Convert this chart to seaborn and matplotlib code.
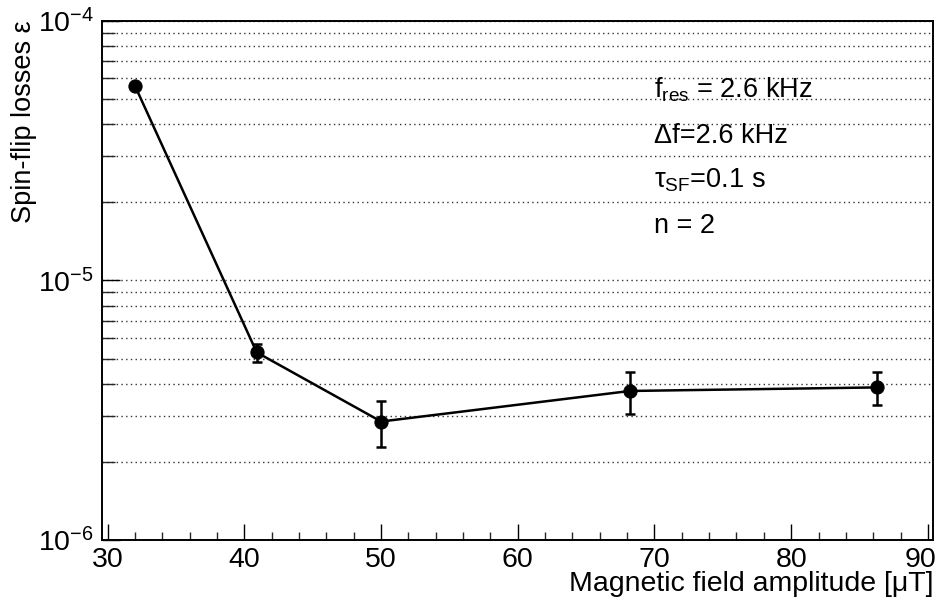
import matplotlib
matplotlib.use("Agg")
import matplotlib.pyplot as plt
import matplotlib.ticker as mticker
import matplotlib.transforms as mtransforms
import seaborn as sns
import pandas as pd
import numpy as np

# ---- data ----
field_uT = [32.0, 40.9, 50.0, 68.2, 86.3]
losses = [5.6e-5, 5.28e-6, 2.86e-6, 3.75e-6, 3.87e-6]
loss_err = [0.0, 0.43e-6, 0.57e-6, 0.70e-6, 0.56e-6]
x_ticks = [30, 40, 50, 60, 70, 80, 90]
annotations = [r"f$_{\rm res}$ = 2.6 kHz", "Δf=2.6 kHz", "τ$_{\\rm SF}$=0.1 s", "n = 2"]

df = pd.DataFrame({"field": field_uT, "loss": losses, "err": loss_err})

sns.set_theme(style="white")
plt.rcParams["font.family"] = ["Liberation Sans", "DejaVu Sans"]
plt.rcParams["mathtext.fontset"] = "custom"
plt.rcParams["mathtext.rm"] = "Liberation Sans"
plt.rcParams["mathtext.it"] = "Liberation Sans:italic"
plt.rcParams["mathtext.default"] = "regular"
plt.rcParams["axes.unicode_minus"] = False

fig = plt.figure(figsize=(9.4, 6.05), dpi=100)
ax = fig.add_axes([0.1088, 0.1074, 0.8841, 0.8584])

ax.set_yscale("log")
ax.set_xlim(29.6, 90.4)
ax.set_ylim(1e-6, 1e-4)

ax.yaxis.grid(True, which="both", linestyle=(0, (1, 2.4)), color="#333333", linewidth=1.0)
ax.xaxis.grid(False)
ax.set_axisbelow(True)

ax.errorbar(df["field"], df["loss"], yerr=df["err"], fmt="none", ecolor="black",
            elinewidth=1.8, capsize=3.5, capthick=1.8, zorder=3)
sns.lineplot(data=df, x="field", y="loss", ax=ax, color="black", linewidth=1.8,
             marker="o", markersize=9.5, markeredgecolor="black", markerfacecolor="black",
             zorder=4)

for s in ax.spines.values():
    s.set_visible(True)
    s.set_color("black")
    s.set_linewidth(1.4)

ax.set_xticks(x_ticks)
ax.xaxis.set_minor_locator(mticker.MultipleLocator(2))
ax.yaxis.set_major_locator(mticker.LogLocator(base=10, numticks=10))
ax.yaxis.set_minor_locator(mticker.LogLocator(base=10, subs=np.arange(2, 10), numticks=20))
ax.yaxis.set_minor_formatter(mticker.NullFormatter())

ax.tick_params(axis="x", which="major", direction="in", length=11.5, width=1.0,
               labelsize=20.5, pad=5, colors="black", bottom=True, top=False)
ax.tick_params(axis="x", which="minor", direction="in", length=5.5, width=1.0,
               bottom=True, top=False)
ax.tick_params(axis="y", which="major", direction="in", length=13, width=1.0,
               labelsize=20.5, pad=6, colors="black", left=True, right=False)
ax.tick_params(axis="y", which="minor", direction="in", length=9.5, width=1.0,
               left=True, right=False)

ax.set_xlabel("Magnetic field amplitude [μT]", fontsize=20.5, loc="right", color="black")
ax.set_ylabel("Spin-flip losses ε", fontsize=19.5, loc="top", color="black")
ax.xaxis.set_label_coords(1.0, -0.060)
ax.yaxis.set_label_coords(-0.079, 1.0)

fig.canvas.draw()
xlabels = ax.get_xticklabels()
xlabels[-1].set_transform(xlabels[-1].get_transform() +
                          mtransforms.ScaledTranslation(-7 / 100, 0, fig.dpi_scale_trans))

ys = [0.853, 0.764, 0.678, 0.591]
for txt, yy in zip(annotations, ys):
    ax.text(0.664, yy, txt, transform=ax.transAxes, fontsize=19.5, ha="left",
            va="baseline", color="black")

fig.savefig("out.png", dpi=100)
